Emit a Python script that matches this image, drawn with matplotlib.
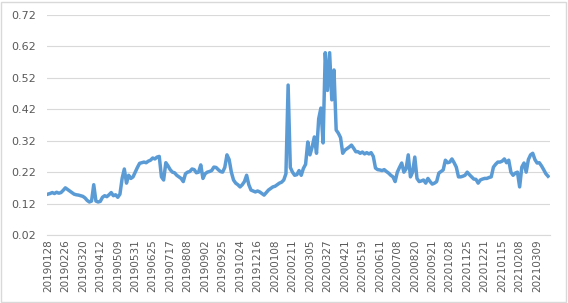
import numpy as np
import matplotlib
matplotlib.use("Agg")
import matplotlib.pyplot as plt
from matplotlib.patches import Rectangle

# tick labels, one every 8 points
tick_labels = ["20190128", "20190226", "20190320", "20190412", "20190509", "20190531",
               "20190625", "20190717", "20190808", "20190902", "20190925", "20191024",
               "20191216", "20200108", "20200211", "20200305", "20200327", "20200421",
               "20200519", "20200611", "20200708", "20200820", "20200921", "20201028",
               "20201125", "20201221", "20210115", "20210208", "20210309"]

values = [
    0.150, 0.152, 0.155, 0.152, 0.156, 0.153, 0.155, 0.162,
    0.170, 0.165, 0.160, 0.155, 0.150, 0.148, 0.147, 0.145,
    0.143, 0.138, 0.130, 0.125, 0.128, 0.180, 0.128, 0.125,
    0.127, 0.140, 0.145, 0.142, 0.148, 0.155, 0.145, 0.148,
    0.140, 0.150, 0.200, 0.230, 0.185, 0.210, 0.200, 0.205,
    0.220, 0.235, 0.248, 0.250, 0.252, 0.250, 0.255, 0.258,
    0.265, 0.262, 0.268, 0.270, 0.205, 0.195, 0.250, 0.240,
    0.228, 0.220, 0.218, 0.210, 0.205, 0.200, 0.190, 0.215,
    0.220, 0.222, 0.230, 0.228, 0.218, 0.220, 0.243, 0.200,
    0.215, 0.220, 0.222, 0.225, 0.236, 0.235, 0.228, 0.222,
    0.220, 0.235, 0.275, 0.260, 0.220, 0.195, 0.185, 0.180,
    0.173, 0.180, 0.190, 0.210, 0.180, 0.163, 0.160, 0.157,
    0.160, 0.157, 0.152, 0.147, 0.155, 0.163, 0.168, 0.173,
    0.175, 0.180, 0.185, 0.188, 0.195, 0.215, 0.497, 0.235,
    0.220, 0.210, 0.212, 0.225, 0.210, 0.232, 0.245, 0.316,
    0.275, 0.300, 0.332, 0.280, 0.390, 0.424, 0.313, 0.600,
    0.480, 0.600, 0.450, 0.545, 0.354, 0.344, 0.330, 0.280,
    0.290, 0.295, 0.300, 0.306, 0.296, 0.285, 0.285, 0.280,
    0.284, 0.278, 0.282, 0.278, 0.282, 0.270, 0.233, 0.228,
    0.227, 0.225, 0.228, 0.222, 0.217, 0.210, 0.205, 0.190,
    0.220, 0.235, 0.249, 0.220, 0.230, 0.275, 0.205, 0.220,
    0.268, 0.200, 0.190, 0.192, 0.195, 0.185, 0.200, 0.190,
    0.182, 0.185, 0.190, 0.217, 0.222, 0.227, 0.258, 0.250,
    0.252, 0.262, 0.250, 0.236, 0.205, 0.205, 0.207, 0.210,
    0.220, 0.212, 0.205, 0.198, 0.197, 0.185, 0.195, 0.198,
    0.200, 0.200, 0.203, 0.205, 0.236, 0.245, 0.252, 0.252,
    0.255, 0.262, 0.250, 0.258, 0.220, 0.210, 0.217, 0.220,
    0.173, 0.236, 0.249, 0.220, 0.260, 0.275, 0.280, 0.260,
    0.249, 0.250, 0.240, 0.228, 0.215, 0.207,
]

yticks = [0.02, 0.12, 0.22, 0.32, 0.42, 0.52, 0.62, 0.72]

fig = plt.figure(figsize=(5.68, 3.03), dpi=100)
ax = fig.add_axes([47/568, 1 - 235/303, 503/568, 220/303])

x = np.arange(len(values))
ax.plot(x, values, color="#5B9BD5", linewidth=2.5, solid_joinstyle="round")

ax.set_ylim(0.02, 0.72)
ax.set_xlim(-0.4, len(values) - 0.1)
ax.set_yticks(yticks)
ax.set_yticklabels(["%.2f" % v for v in yticks])
ax.set_xticks(x[::8])
ax.set_xticklabels(tick_labels, rotation=90)

ax.grid(axis="y", color="#D9D9D9", linewidth=0.8)
ax.set_axisbelow(True)
for s in ["top", "right", "left"]:
    ax.spines[s].set_visible(False)
ax.spines["bottom"].set_color("#D9D9D9")
ax.spines["bottom"].set_linewidth(0.8)
ax.tick_params(axis="both", length=0, labelsize=7.5, colors="#595959")
ax.tick_params(axis="y", pad=8, labelsize=8)
ax.tick_params(axis="x", pad=3)

# chart border
fig.patches.append(Rectangle((0.002, 0.004), 0.994, 0.99, transform=fig.transFigure,
                             fill=False, edgecolor="#D9D9D9", linewidth=1.0))

fig.savefig("out.png", dpi=100)
